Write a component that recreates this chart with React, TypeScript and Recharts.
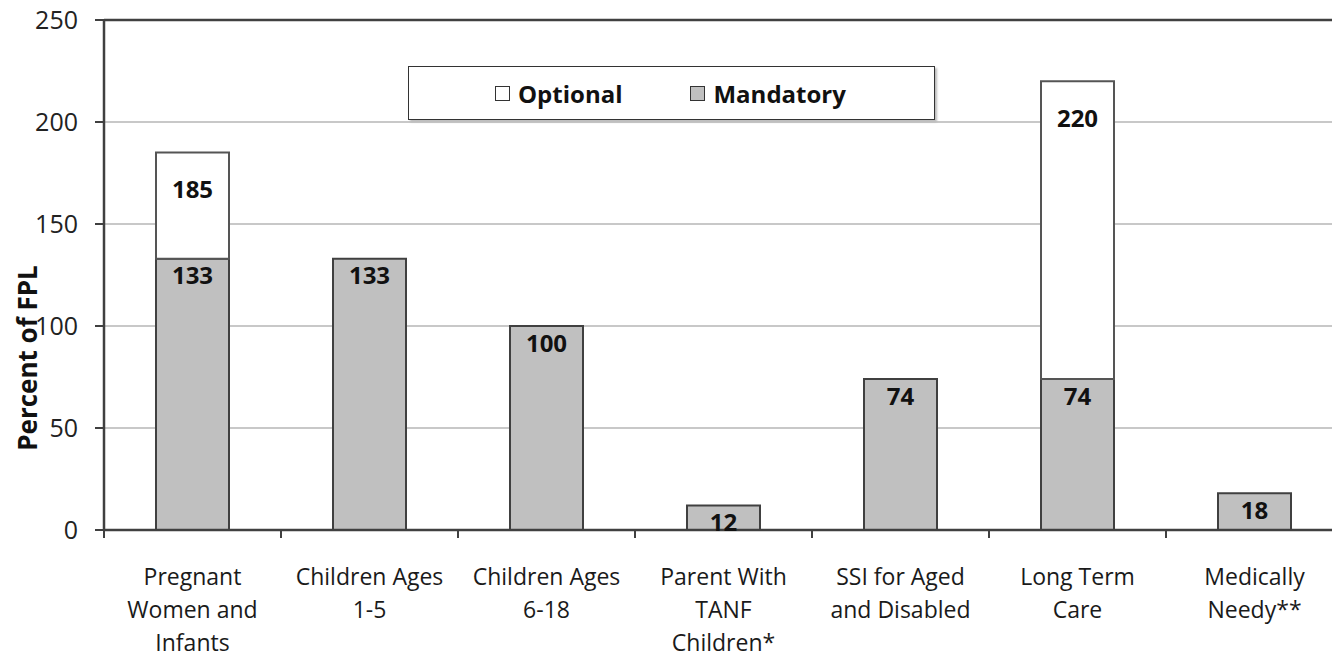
import {
  Bar,
  BarChart,
  CartesianGrid,
  LabelList,
  ReferenceLine,
  XAxis,
  YAxis,
} from 'recharts'

const categories = [
  'Pregnant\nWomen and\nInfants',
  'Children Ages\n1-5',
  'Children Ages\n6-18',
  'Parent With\nTANF\nChildren*',
  'SSI for Aged\nand Disabled',
  'Long Term\nCare',
  'Medically\nNeedy**',
]
const mandatory = [133, 133, 100, 12, 74, 74, 18]
const optional = [185, null, null, null, null, 220, null]
const yTicks = [0, 50, 100, 150, 200, 250]

const FONT = '"Open Sans", sans-serif'
const AXIS = '#404040'

const data = categories.map((name, i) => ({
  name,
  mandatory: mandatory[i],
  optionalTotal: optional[i],
  optionalExtra: optional[i] == null ? null : (optional[i] as number) - mandatory[i],
}))

// category label + tick marks on the band edges (payload.offset = half band)
const CategoryTick = (props: any) => {
  const { x, y, payload, visibleTicksCount } = props
  const half = payload.offset || 0
  const isLast = payload.index === visibleTicksCount - 1
  const lines = String(payload.value).split('\n')
  return (
    <g transform={`translate(${x},${y})`}>
      <line x1={-half} x2={-half} y1={-8} y2={0} stroke={AXIS} strokeWidth={2} />
      {isLast && <line x1={half} x2={half} y1={-8} y2={0} stroke={AXIS} strokeWidth={2} />}
      {lines.map((line: string, i: number) => (
        <text
          key={i}
          x={0}
          y={i * 33 + 38}
          textAnchor="middle"
          dominantBaseline="central"
          fill="#1a1a1a"
          fontSize={23}
          fontFamily={FONT}
        >
          {line}
        </text>
      ))}
    </g>
  )
}

const ValueLabel = (offset: number) => (props: any) => {
  const { x, y, width, value } = props
  if (value == null) return null
  return (
    <text
      x={x + width / 2}
      y={y + offset}
      textAnchor="middle"
      dominantBaseline="central"
      fontSize={24}
      fontWeight="bold"
      fontFamily={FONT}
      fill="#111"
    >
      {value}
    </text>
  )
}

const Swatch = ({ fill }: { fill: string }) => (
  <span
    style={{
      display: 'inline-block',
      width: 13,
      height: 13,
      border: '1.5px solid #333',
      background: fill,
      marginRight: 8,
    }}
  />
)

const LegendBox = () => (
  <div
    style={{
      position: 'absolute',
      left: 408,
      top: 66,
      width: 525,
      height: 52,
      border: '1.5px solid #333',
      boxShadow: '2px 2px 2px #bbb',
      background: '#fff',
      display: 'flex',
      alignItems: 'center',
      fontFamily: FONT,
      fontWeight: 'bold',
      fontSize: 24,
      color: '#111',
    }}
  >
    <span style={{ marginLeft: 86, display: 'flex', alignItems: 'center' }}>
      <Swatch fill="#fff" />
      Optional
    </span>
    <span style={{ marginLeft: 68, display: 'flex', alignItems: 'center' }}>
      <Swatch fill="#c0c0c0" />
      Mandatory
    </span>
  </div>
)

const YLabel = () => (
  <text
    x={27}
    y={358}
    transform="rotate(-90, 27, 358)"
    textAnchor="middle"
    dominantBaseline="central"
    fontSize={26}
    fontWeight="bold"
    fontFamily={FONT}
    fill="#111"
  >
    Percent of FPL
  </text>
)

export default function App() {
  return (
    <div
      style={{
        position: 'absolute',
        left: 0,
        top: 0,
        width: 1332,
        height: 660,
        overflow: 'hidden',
        background: '#fff',
      }}
    >
      <BarChart
        width={1343}
        height={660}
        data={data}
        margin={{ top: 20, right: 0, bottom: 0, left: 0 }}
      >
        <CartesianGrid vertical={false} stroke="#c8c8c8" strokeWidth={2} />
        <XAxis
          dataKey="name"
          height={130}
          interval={0}
          tickLine={false}
          tickSize={8}
          tickMargin={0}
          axisLine={{ stroke: AXIS, strokeWidth: 2.5 }}
          tick={<CategoryTick />}
        />
        <YAxis
          width={104}
          domain={[0, 250]}
          ticks={yTicks}
          tickSize={9}
          tickMargin={17}
          axisLine={{ stroke: AXIS, strokeWidth: 2.5 }}
          tickLine={{ stroke: AXIS, strokeWidth: 2 }}
          tick={{ fill: '#222', fontSize: 25, fontFamily: FONT }}
          label={<YLabel />}
        />
        <ReferenceLine y={250} stroke={AXIS} strokeWidth={2.5} />
        <Bar
          name="Mandatory"
          dataKey="mandatory"
          stackId="a"
          fill="#c0c0c0"
          stroke="#404040"
          strokeWidth={2}
          barSize={73}
          isAnimationActive={false}
        >
          <LabelList dataKey="mandatory" content={ValueLabel(16)} />
        </Bar>
        <Bar
          name="Optional"
          dataKey="optionalExtra"
          stackId="a"
          fill="#ffffff"
          stroke="#555"
          strokeWidth={2}
          barSize={73}
          isAnimationActive={false}
        >
          <LabelList dataKey="optionalTotal" content={ValueLabel(36)} />
        </Bar>
      </BarChart>
      <LegendBox />
    </div>
  )
}
